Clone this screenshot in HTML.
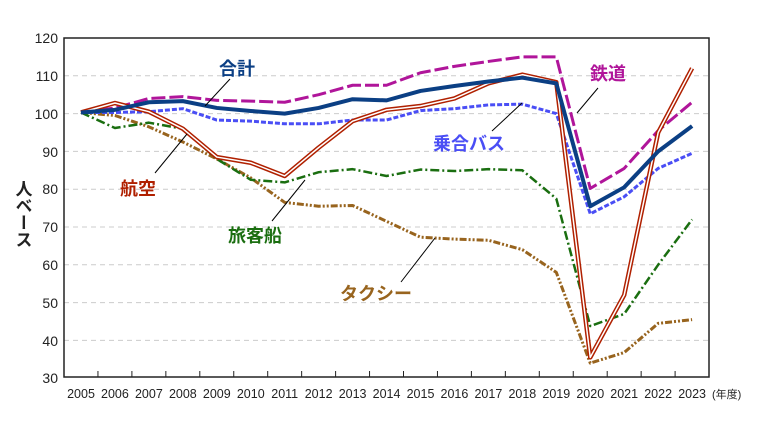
<!DOCTYPE html>
<html><head><meta charset="utf-8"><style>
body{margin:0;background:#fff}
svg text{font-family:"Liberation Sans","Noto Sans CJK JP",sans-serif}
</style></head><body>
<svg width="764" height="429" viewBox="0 0 764 429" xmlns="http://www.w3.org/2000/svg">
<rect width="764" height="429" fill="#fff"/>
<g stroke="#ccc" stroke-width="1" stroke-dasharray="5,4">
<line x1="64" x2="709" y1="75.8" y2="75.8"/><line x1="64" x2="709" y1="113.6" y2="113.6"/>
<line x1="64" x2="709" y1="151.4" y2="151.4"/><line x1="64" x2="709" y1="189.2" y2="189.2"/>
<line x1="64" x2="709" y1="227" y2="227"/><line x1="64" x2="709" y1="264.8" y2="264.8"/>
<line x1="64" x2="709" y1="302.6" y2="302.6"/><line x1="64" x2="709" y1="340.4" y2="340.4"/>
</g>
<g font-size="14" fill="#222" text-anchor="end">
<text x="58" y="43">120</text><text x="58" y="81">110</text><text x="58" y="119">100</text>
<text x="58" y="157">90</text><text x="58" y="194">80</text><text x="58" y="232">70</text>
<text x="58" y="270">60</text><text x="58" y="308">50</text><text x="58" y="346">40</text><text x="58" y="383">30</text>
</g>
<text font-size="17" font-weight="bold" fill="#222" x="22" y="180" writing-mode="tb" style="writing-mode:vertical-rl" text-anchor="start">人ベース</text>
<g id="xt" stroke="#222" stroke-width="1"></g>
<g id="xl" font-size="12.5" fill="#222" text-anchor="middle"></g>
<text x="712" y="398" font-size="11" fill="#222">(年度)</text>
<g id="series" fill="none" stroke-linejoin="round"></g>
<rect x="64" y="38" width="645" height="339" fill="none" stroke="#222" stroke-width="1.5"/>
<g stroke="#000" stroke-width="1">
<line x1="230" y1="79" x2="205" y2="106"/>
<line x1="598" y1="88" x2="577" y2="113"/>
<line x1="492" y1="131" x2="522" y2="103"/>
<line x1="155" y1="173" x2="187" y2="134"/>
<line x1="272" y1="221" x2="305" y2="180"/>
<line x1="401" y1="282" x2="435" y2="238"/>
</g>
<g font-size="18" font-weight="bold">
<text x="219" y="75" fill="#0b3f84">合計</text>
<text x="590" y="80" fill="#b0159a">鉄道</text>
<text x="433" y="150" fill="#4a4ef5">乗合バス</text>
<text x="120" y="195" fill="#b02000">航空</text>
<text x="228" y="242" fill="#1a6e10">旅客船</text>
<text x="340" y="300" fill="#98641e">タクシー</text>
</g>
</svg>
<script>
const X=i=>81+i*33.95, Y=v=>38+(120-v)*3.78;
const xt=document.getElementById('xt'),xl=document.getElementById('xl'),S=document.getElementById('series');
const ns='http://www.w3.org/2000/svg';
for(let i=1;i<19;i++){const l=document.createElementNS(ns,'line');const x=64+i*33.95;l.setAttribute('x1',x);l.setAttribute('x2',x);l.setAttribute('y1',371);l.setAttribute('y2',377);xt.appendChild(l);}
for(let i=0;i<19;i++){const t=document.createElementNS(ns,'text');t.setAttribute('x',X(i));t.setAttribute('y',398);t.textContent=2005+i;xl.appendChild(t);}
function add(d,c,w,da){const p=document.createElementNS(ns,'polyline');p.setAttribute('points',d.map((v,i)=>X(i)+','+Y(v)).join(' '));p.setAttribute('stroke',c);p.setAttribute('stroke-width',w);if(da)p.setAttribute('stroke-dasharray',da);S.appendChild(p);}
add([100.3,99.5,96.5,92.5,88,83,76.5,75.5,75.7,71.5,67.3,66.8,66.5,64,58,34,36.8,44.5,45.5],'#98641e',3,'7,2,2,2,2,2');
add([100.3,96.2,97.6,96,88,82.5,81.8,84.5,85.3,83.5,85.2,84.8,85.3,85,77.5,43.8,47,60,72],'#1a6e10',2.5,'9,3,2,3');
add([100.3,100.3,100.5,101.3,98.3,98,97.3,97.3,98.3,98.3,100.8,101.3,102.3,102.5,100,73.5,78,85.5,89.5],'#4a4ef5',3,'5,2');
add([100.3,101.5,104,104.5,103.5,103.3,103,105,107.5,107.5,110.8,112.5,113.8,115,115,80.2,85.5,95.5,103],'#b0159a',3,'14,4');
const air=[100.3,102.8,100.5,96,88.5,87,83.5,91,98,101,102,104,108,110.3,108.3,35.5,52,95,112];
add(air,'#b02000',4.5);add(air,'#fff',1.5);
add([100.3,101,103,103.3,101.5,100.7,100,101.5,103.8,103.5,106,107.3,108.5,109.5,108,75.5,80.5,90,96.7],'#0b3f84',4);
</script>
</body></html>
